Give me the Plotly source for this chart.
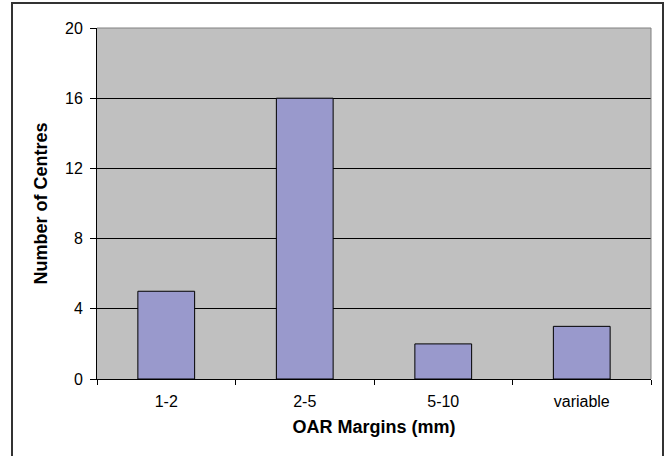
import plotly.graph_objects as go

categories = ["1-2", "2-5", "5-10", "variable"]
centres = [5, 16, 2, 3]
y_ticks = [0, 4, 8, 12, 16, 20]

W, H = 668, 456
L, R, T, B = 97, 17, 28, 77
pw, ph = W - L - R, H - T - B

def px_x(x):
    return (x - L) / pw

def px_y(y):
    return (H - B - y) / ph

fig = go.Figure()
fig.add_trace(go.Bar(
    x=categories, y=centres,
    marker=dict(color="#9999CC", line=dict(color="black", width=1)),
    width=0.41,
))

font = "Liberation Sans, Arial, sans-serif"
fig.update_layout(
    width=W, height=H,
    margin=dict(l=L, r=R, t=T, b=B),
    paper_bgcolor="white", plot_bgcolor="#C0C0C0",
    font=dict(family=font, size=16, color="black"),
    showlegend=False,
    xaxis=dict(
        showline=True, linecolor="black", linewidth=1,
        ticks="outside", tickson="boundaries", ticklen=5, tickcolor="black",
        showgrid=False, tickfont=dict(size=16), ticklabelstandoff=8,
        title=dict(text="<b>OAR Margins (mm)</b>", font=dict(size=18), standoff=11),
    ),
    yaxis=dict(
        range=[0, 20], tickvals=y_ticks,
        showline=True, linecolor="black", linewidth=1,
        ticks="outside", ticklen=6, tickcolor="black",
        showgrid=True, gridcolor="black", gridwidth=1,
        zeroline=False, tickfont=dict(size=16), ticklabelstandoff=4,
        title=dict(text="<b>Number of Centres</b>", font=dict(size=18), standoff=12),
    ),
    shapes=[
        dict(type="line", xref="paper", yref="paper", x0=0, x1=1, y0=1, y1=1,
             line=dict(color="#808080", width=1), layer="above"),
        dict(type="line", xref="paper", yref="paper", x0=1, x1=1, y0=0, y1=1,
             line=dict(color="#808080", width=1), layer="above"),
        dict(type="rect", xref="paper", yref="paper",
             x0=px_x(12), x1=px_x(663), y0=px_y(460), y1=px_y(3),
             line=dict(color="#333333", width=2), layer="above"),
    ],
)

fig.write_html("out.html")
